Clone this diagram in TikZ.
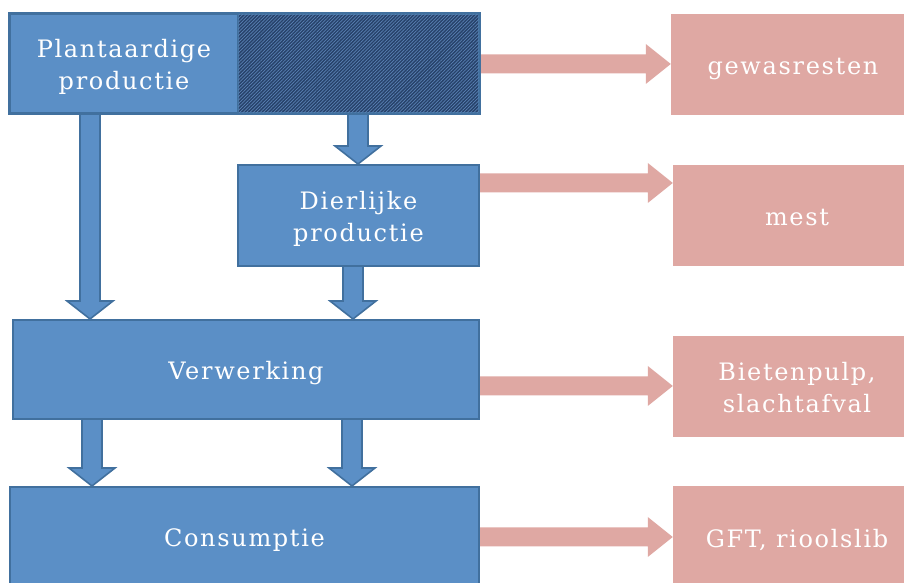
\documentclass[tikz,border=0pt]{standalone}
\usepackage{fontspec}
\setmainfont{DejaVu Serif}[LetterSpace=7]
\usetikzlibrary{patterns.meta,calc,backgrounds}
\definecolor{boxblue}{HTML}{5B8FC6}
\definecolor{boxline}{HTML}{41709E}
\definecolor{hatchdark}{HTML}{27426A}
\definecolor{hatchlight}{HTML}{5A82B4}
\definecolor{pinkc}{HTML}{DFA8A3}
\newcommand\downblock[3]{% x, from node, to node
  \draw[barrow] let \p1=(#2.south), \p2=(#3.north) in
    (#1pt-10pt,\y1+3pt) -- (#1pt-10pt,\y2+18pt) -- (#1pt-23pt,\y2+18pt) -- (#1pt,\y2)
    -- (#1pt+23pt,\y2+18pt) -- (#1pt+10pt,\y2+18pt) -- (#1pt+10pt,\y1+3pt) -- cycle;}
\newcommand\rightblock[3]{% y, from node, to node
  \fill[parrow] let \p1=(#2.east), \p2=(#3.west) in
    (\x1,#1pt-9.5pt) -- (\x2-25pt,#1pt-9.5pt) -- (\x2-25pt,#1pt-20pt) -- (\x2,#1pt)
    -- (\x2-25pt,#1pt+20pt) -- (\x2-25pt,#1pt+9.5pt) -- (\x1,#1pt+9.5pt) -- cycle;}
\begin{document}
\begin{tikzpicture}[x=1pt,y=1pt,
  txt/.style={text=white,align=center,inner sep=0pt,font=\fontsize{24}{31.5}\selectfont,
    execute at begin node={\rule{0pt}{27pt}},
    execute at end node={\rule[-7pt]{0pt}{7pt}}},
  twoline/.style={execute at begin node={\rule{0pt}{59pt}}},
  bluebox/.style={txt,draw=boxline,line width=2pt,fill=boxblue},
  pinkbox/.style={txt,fill=pinkc},
  barrow/.style={fill=boxblue,draw=boxline,line width=1.6pt,line join=miter},
  parrow/.style={fill=pinkc}
]
\useasboundingbox (0,0) rectangle (904,583);
% blue boxes
\node[bluebox,twoline,minimum width=228pt,minimum height=99pt] (Pl) at (124,519.5) {Plantaardige\\productie};
\node[draw=boxline,line width=2pt,fill=hatchdark,minimum width=241pt,minimum height=99pt] (Ph) at (358.5,519.5) {};
\fill[pattern={Lines[angle=45,distance=2.4pt,line width=0.7pt]},pattern color=hatchlight]
  ([shift={(1pt,1pt)}]Ph.south west) rectangle ([shift={(-1pt,-1pt)}]Ph.north east);
\draw[boxline,line width=2pt] (Pl.south west) rectangle (Ph.north east);
\node[bluebox,twoline,minimum width=241pt,minimum height=101pt] (D) at (358.5,367.5) {Dierlijke\\productie};
\node[bluebox,minimum width=466pt,minimum height=99pt] (V) at (246,213.5) {Verwerking};
\node[bluebox,minimum width=469pt,minimum height=100pt] (C) at (244.5,46) {Consumptie};
% pink boxes
\node[pinkbox,minimum width=244pt,minimum height=101pt] (G) at (793,518.5) {gewasresten};
\node[pinkbox,minimum width=248pt,minimum height=101pt] (M) at (797,367.5) {mest};
\node[pinkbox,twoline,minimum width=248pt,minimum height=101pt] (B) at (797,196.5) {Bietenpulp,\\slachtafval};
\node[pinkbox,minimum width=248pt,minimum height=104pt] (F) at (797,45) {GFT, rioolslib};
\begin{scope}[on background layer]
\downblock{90}{Pl}{V}
\downblock{358}{Ph}{D}
\downblock{353}{D}{V}
\downblock{92}{V}{C}
\downblock{352}{V}{C}
\rightblock{519}{Ph}{G}
\rightblock{400}{D}{M}
\rightblock{197}{V}{B}
\rightblock{46}{C}{F}
\end{scope}
\end{tikzpicture}
\end{document}
